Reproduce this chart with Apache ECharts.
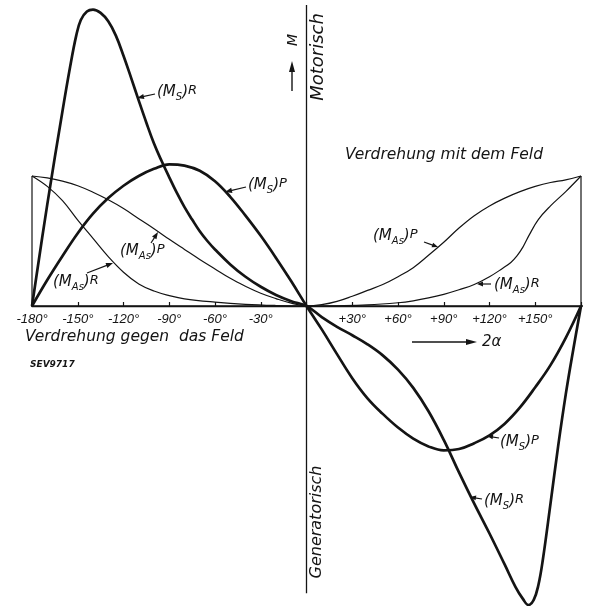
<!DOCTYPE html>
<html><head><meta charset="utf-8">
<script src="https://cdn.jsdelivr.net/npm/echarts@6/dist/echarts.min.js"></script>
<style>html,body{margin:0;padding:0;background:#fff}#c{width:592px;height:606px}</style>
</head><body><div id="c"></div>
<script>
// Tick values and labels (2α in degrees)
const tickValues = [-180,-150,-120,-90,-60,-30,0,30,60,90,120,150,180];
const tickLabels = ['-180°','-150°','-120°','-90°','-60°','-30°','','+30°','+60°','+90°','+120°','+150°',''];

// (M_S)_R  – thick curve
const msR_deg = [-180,-170,-160,-155,-151,-148,-144,-140,-135,-130,-125,-120,-115,-110,-105,-100,-95,-90,-85,-80,-75,-70,-65,-60,-50,-40,-30,-20,-10,0,10,20,30,40,50,60,70,80,90,100,110,120,130,137,142,145.5,149,152,155,160,165,170,175,180];
const msR_val = [0,0.78,1.50,1.84,2.08,2.20,2.265,2.28,2.255,2.19,2.08,1.925,1.755,1.58,1.41,1.25,1.115,0.99,0.87,0.76,0.665,0.575,0.50,0.435,0.32,0.225,0.148,0.085,0.037,0,-0.085,-0.16,-0.225,-0.295,-0.38,-0.49,-0.63,-0.81,-1.03,-1.28,-1.52,-1.75,-1.99,-2.16,-2.255,-2.30,-2.26,-2.15,-1.95,-1.52,-1.08,-0.68,-0.33,0];

// (M_S)_P – thick curve
const msP_deg = [-180,-170,-160,-150,-140,-130,-120,-110,-100,-90,-80,-70,-60,-50,-40,-30,-20,-10,0,10,20,30,40,50,60,70,80,90,100,110,120,130,140,150,160,170,180];
const msP_val = [0,0.20,0.385,0.56,0.71,0.83,0.925,1.0,1.055,1.09,1.08,1.04,0.96,0.84,0.695,0.54,0.37,0.19,0,-0.18,-0.37,-0.555,-0.71,-0.83,-0.935,-1.02,-1.08,-1.11,-1.10,-1.055,-0.995,-0.905,-0.78,-0.625,-0.455,-0.245,0];

// (M_As)_P – thin curve
const masP_deg = [-180,-170,-160,-150,-140,-130,-120,-110,-100,-90,-80,-70,-60,-50,-40,-30,-20,-10,0,10,20,30,40,50,60,70,80,90,100,110,120,130,140,150,160,170,180];
const masP_val = [1.0,0.985,0.96,0.925,0.875,0.817,0.75,0.672,0.595,0.513,0.435,0.358,0.285,0.213,0.152,0.098,0.057,0.022,0,0.01,0.035,0.075,0.12,0.165,0.225,0.295,0.39,0.49,0.60,0.695,0.77,0.83,0.88,0.92,0.95,0.97,1.0];

// (M_As)_R – thin curve
const masR_deg = [-180,-170,-160,-150,-140,-130,-120,-110,-100,-90,-80,-60,-40,-20,0,20,40,60,70,80,90,100,110,120,128,134,138,142,146,152,160,170,180];
const masR_val = [1.0,0.92,0.81,0.66,0.52,0.38,0.26,0.17,0.115,0.08,0.055,0.03,0.013,0.004,0,0.002,0.008,0.025,0.04,0.062,0.09,0.125,0.165,0.225,0.285,0.335,0.385,0.455,0.545,0.665,0.77,0.88,1.0];

const zip = (a,b) => a.map((v,i)=>[v,b[i]]);
const INK = '#141414';
const chart = echarts.init(document.getElementById('c'), null, {renderer:'canvas'});

const FF = '"DejaVu Sans", sans-serif';
const rich = {
  m:{fontSize:15, fontFamily:FF, fontStyle:'italic', lineHeight:15, verticalAlign:'top', fill:INK},
  s:{fontSize:10, fontFamily:FF, fontStyle:'italic', lineHeight:26, verticalAlign:'middle', fill:INK},
  r:{fontSize:13, fontFamily:FF, fontStyle:'italic', lineHeight:22, verticalAlign:'top', fill:INK}
};
function curveLabel(txt, x, yc){
  return {type:'text', x:x, y:yc+5.5, style:{text:txt, rich:rich, align:'left', verticalAlign:'middle', textAlign:'left', textVerticalAlign:'middle', fill:INK}};
}
function arrow(x1,y1,x2,y2,hl,hw,lw){
  const dx=x2-x1, dy=y2-y1, L=Math.hypot(dx,dy), ux=dx/L, uy=dy/L;
  const bx=x2-ux*hl, by=y2-uy*hl;
  return [
    {type:'line', shape:{x1:x1,y1:y1,x2:bx+ux*1,y2:by+uy*1}, style:{stroke:INK, lineWidth:lw}},
    {type:'polygon', shape:{points:[[x2,y2],[bx-uy*hw,by+ux*hw],[bx+uy*hw,by-ux*hw]]}, style:{fill:INK}}
  ];
}
function plainText(txt,x,y,size,opts){
  opts = opts||{};
  return {type:'text', x:x, y:y, rotation:opts.rot||0,
    style:{text:txt, fontSize:size, fontFamily:opts.ff||FF, fontStyle:'italic', fontWeight:opts.fw||'normal', fill:INK,
      align:opts.align||'left', verticalAlign:'middle', textAlign:opts.align||'left', textVerticalAlign:'middle'}};
}
const MS = '{m|(M}{s|S}{m|)}';
const MAS = '{m|(M}{s|As}{m|)}';

const graphics = [].concat(
  curveLabel(MS+'{r|R}', 157, 92), arrow(155,94,137,98,7,2.6,1.2),
  curveLabel(MS+'{r|P}', 248, 185), arrow(246,187,225,192,7,2.6,1.2),
  curveLabel(MAS+'{r|P}', 120, 251), arrow(151,243,158,232,7,2.6,1.2),
  curveLabel(MAS+'{r|R}', 53, 282), arrow(87,273,113,263,7,2.6,1.2),
  curveLabel(MAS+'{r|P}', 373, 236), arrow(424,242,438,247,6,2.4,1.2),
  curveLabel(MAS+'{r|R}', 494, 285), arrow(491,284,477,284,6,2.4,1.2),
  curveLabel(MS+'{r|P}', 500, 442), arrow(499,438,487,436,6,2.4,1.2),
  curveLabel(MS+'{r|R}', 484, 501), arrow(482,499,470,497,6,2.4,1.2),
  plainText('Verdrehung mit dem Feld', 345, 155, 15.5),
  plainText('Verdrehung gegen  das Feld', 25, 337, 15.5),
  plainText('SEV9717', 30, 365, 9, {fw:'bold'}),
  plainText('Motorisch', 318, 57, 18, {rot:Math.PI/2, align:'center'}),
  plainText('Generatorisch', 317, 522, 16, {rot:Math.PI/2, align:'center'}),
  plainText('M', 293, 40, 14, {rot:Math.PI/2, align:'center'}),
  arrow(292,91,292,61,11,3,1.4),
  arrow(412,342,477,342,11,3,1.4),
  plainText('2α', 482, 342, 15)
);

const thin = {color:INK, width:1.2};
const thick = {color:INK, width:2.7};
function lineSeries(name, data, ls, extra){
  return Object.assign({name:name, type:'line', data:data, symbol:'none', smooth:0.4, lineStyle:ls, silent:true, animation:false, xAxisIndex:0, yAxisIndex:0}, extra||{});
}

chart.setOption({
  backgroundColor:'#ffffff',
  animation:false,
  grid:[
    {left:32, width:549, top:4.4, height:600.6, containLabel:false, outerBoundsMode:'none'},
    {left:32, width:549, top:305, height:1, containLabel:false, outerBoundsMode:'none'}
  ],
  xAxis:[
    {gridIndex:0, type:'value', min:-180, max:180, show:false, splitLine:{show:false}},
    {gridIndex:1, type:'value', min:-180, max:180, interval:30, position:'bottom',
      axisLine:{show:true, onZero:false, lineStyle:{color:INK, width:1.3}},
      axisTick:{show:true, inside:true, length:4, lineStyle:{color:INK, width:1.2}},
      splitLine:{show:false},
      axisLabel:{margin:7, color:INK, fontSize:13, fontStyle:'italic', fontFamily:'"Liberation Sans", sans-serif',
        formatter:function(v){const i=tickValues.indexOf(v); return i<0?'':tickLabels[i];}}}
  ],
  yAxis:[
    {gridIndex:0, type:'value', min:-2.3, max:2.32, show:false, splitLine:{show:false}},
    {gridIndex:1, type:'value', min:0, max:1, show:false, splitLine:{show:false}}
  ],
  series:[
    lineSeries('xaxis', [[-187,0],[186,0]], {color:INK, width:1.3}, {smooth:false, clip:false}),
    lineSeries('yaxis', [[0,2.315],[0,-2.21]], {color:INK, width:1.3}, {smooth:false, clip:false}),
    lineSeries('boxL', [[-180,0],[-180,1.0]], thin, {smooth:false}),
    lineSeries('boxR', [[180,0],[180,1.0]], thin, {smooth:false}),
    lineSeries('(M_As)_P', zip(masP_deg, masP_val), thin),
    lineSeries('(M_As)_R', zip(masR_deg, masR_val), thin),
    lineSeries('(M_S)_P', zip(msP_deg, msP_val), thick),
    lineSeries('(M_S)_R', zip(msR_deg, msR_val), thick, {clip:false})
  ],
  graphic:{elements:graphics}
});
</script></body></html>
